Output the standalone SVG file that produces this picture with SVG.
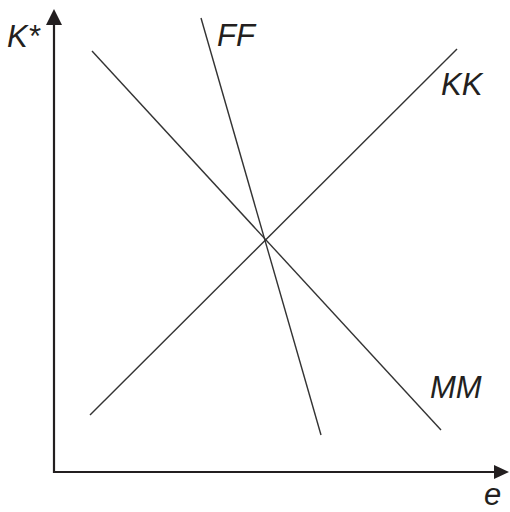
<svg xmlns="http://www.w3.org/2000/svg" width="510" height="512" viewBox="0 0 510 512">
<style>
.ax{stroke:#231f20;stroke-width:2.2;fill:none}
.ln{stroke:#333;stroke-width:1.4;fill:none}
.lbl{font-family:"Liberation Sans",Arial,sans-serif;font-style:italic;font-size:31px;fill:#231f20}
</style>
<rect width="510" height="512" fill="#fff"/>
<g id="axes">
<polyline class="ax" points="54,24 54,472 498,472"/>
<polygon points="54,9 46,25 62,25" fill="#231f20"/>
<polygon points="509,472 494,465 494,479" fill="#231f20"/>
<text class="lbl" x="7" y="47">K*</text>
<text class="lbl" x="484" y="505">e</text>
</g>
<g id="connectors">
<g id="MM"><line class="ln" x1="92" y1="51" x2="441" y2="430"/><text class="lbl" x="430" y="398">MM</text></g>
<g id="KK"><line class="ln" x1="90" y1="415" x2="457" y2="49"/><text class="lbl" x="441" y="95">KK</text></g>
<g id="FF"><line class="ln" x1="201" y1="18" x2="321" y2="435"/><text class="lbl" x="217" y="46">FF</text></g>
</g>
</svg>
